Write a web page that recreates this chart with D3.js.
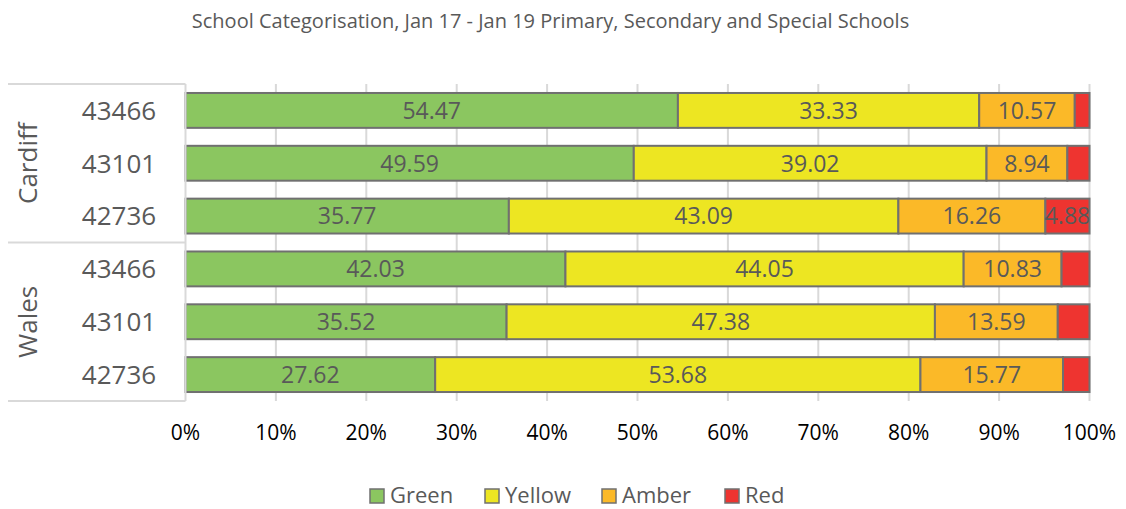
<!DOCTYPE html>
<html><head><meta charset="utf-8">
<script src="https://cdn.jsdelivr.net/npm/d3@7"></script>
<style>body{margin:0;background:#fff}svg{display:block}text{font-family:"Open Sans",sans-serif}</style>
</head><body><svg id="c" width="1126" height="509"></svg>
<script>
const title = "School Categorisation, Jan 17 - Jan 19 Primary, Secondary and Special Schools";
const groups = ["Cardiff", "Wales"];
const categories = ["43466", "43101", "42736"];
const series = ["Green", "Yellow", "Amber", "Red"];
const colors = ["#8BC660", "#EDE622", "#FBB928", "#EE3430"];
const green  = [54.47, 49.59, 35.77, 42.03, 35.52, 27.62];
const yellow = [33.33, 39.02, 43.09, 44.05, 47.38, 53.68];
const amber  = [10.57, 8.94, 16.26, 10.83, 13.59, 15.77];
const red    = [1.63, 2.45, 4.88, 3.09, 3.51, 2.93];
const xTicks = [0, 0.1, 0.2, 0.3, 0.4, 0.5, 0.6, 0.7, 0.8, 0.9, 1.0];

const rows = [];
groups.forEach((g, gi) => categories.forEach((c, ci) => rows.push({id: g + "-" + c, group: g, cat: c})));
rows.forEach((r, i) => { r.Green = green[i]; r.Yellow = yellow[i]; r.Amber = amber[i]; r.Red = red[i]; });

const svg = d3.select("#c");
const pL = 185.5, pR = 1089.5, pT = 84, pB = 401;
const x = d3.scaleLinear().domain([0, 1]).range([pL, pR]);
const y = d3.scaleBand().domain(rows.map(r => r.id)).range([pT, pB]).paddingInner(0.34).paddingOuter(0.17);

svg.append("text").attr("x", 550.5).attr("y", 28).attr("text-anchor", "middle")
  .attr("font-size", 20).attr("fill", "#595959").text(title);

// gridlines
svg.append("g").selectAll("line").data(xTicks.slice(1)).join("line")
  .attr("x1", d => x(d)).attr("x2", d => x(d)).attr("y1", pT).attr("y2", pB)
  .attr("stroke", "#d9d9d9").attr("stroke-width", 2);

const stack = d3.stack().keys(series).offset(d3.stackOffsetExpand);
const stacked = stack(rows);

const gBars = svg.append("g");
stacked.forEach((layer, li) => {
  gBars.append("g").selectAll("rect").data(layer).join("rect")
    .attr("x", d => x(d[0])).attr("width", d => x(d[1]) - x(d[0]))
    .attr("y", d => y(d.data.id)).attr("height", y.bandwidth())
    .attr("fill", colors[li]).attr("stroke", "#707070").attr("stroke-width", 2);
});
stacked.forEach((layer, li) => {
  gBars.append("g").selectAll("text").data(layer.filter(d => d.data[series[li]] > 4)).join("text")
    .attr("x", d => (x(d[0]) + x(d[1])) / 2).attr("y", d => y(d.data.id) + y.bandwidth() / 2)
    .attr("dy", "0.36em").attr("text-anchor", "middle").attr("font-size", 23).attr("fill", "#595959")
    .text(d => d.data[series[li]].toFixed(2));
});

// left table
const tbl = svg.append("g").attr("stroke", "#d9d9d9").attr("stroke-width", 2);
const gy = d3.scaleBand().domain(groups).range([pT, pB]);
[pT, gy("Wales"), pB].forEach(v => tbl.append("line").attr("x1", 8).attr("x2", pL).attr("y1", v).attr("y2", v));
tbl.append("line").attr("x1", pL).attr("x2", pL).attr("y1", pT).attr("y2", pB);

svg.append("g").selectAll("text").data(rows).join("text")
  .attr("x", 119).attr("y", d => y(d.id) + y.bandwidth() / 2).attr("dy", "0.36em")
  .attr("text-anchor", "middle").attr("font-size", 26).attr("fill", "#595959").text(d => d.cat);

svg.append("g").selectAll("text").data(groups).join("text")
  .attr("transform", d => `translate(37,${gy(d) + gy.bandwidth() / 2}) rotate(-90)`)
  .attr("text-anchor", "middle").attr("font-size", 26).attr("fill", "#595959").text(d => d);

// x axis labels
svg.append("g").selectAll("text").data(xTicks).join("text")
  .attr("x", d => x(d)).attr("y", 432).attr("dy", "0.36em").attr("text-anchor", "middle")
  .attr("font-size", 21).attr("fill", "#000").text(d3.format(".0%"));

// legend
const legX = [370, 485, 602, 725];
const lg = svg.append("g").selectAll("g").data(series).join("g")
  .attr("transform", (d, i) => `translate(${legX[i]},496)`);
lg.append("rect").attr("x", 0).attr("y", -7).attr("width", 14).attr("height", 14)
  .attr("fill", (d, i) => colors[i]).attr("stroke", "#707070").attr("stroke-width", 1.5);
lg.append("text").attr("x", 20).attr("dy", "0.34em").attr("font-size", 22).attr("fill", "#595959").text(d => d);
</script></body></html>
